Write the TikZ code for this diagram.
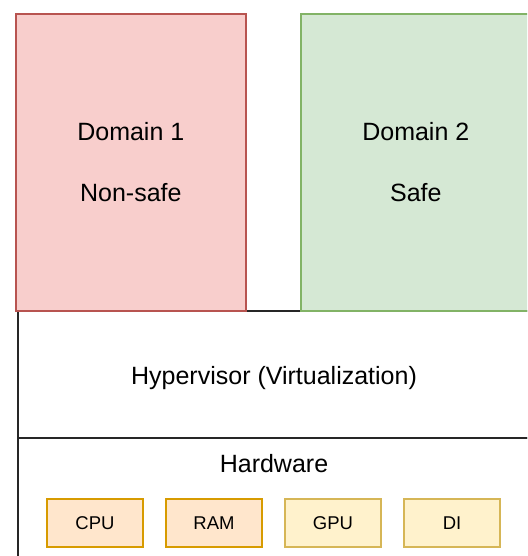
\documentclass[tikz,border=0pt]{standalone}
\usepackage{fontspec}
\setmainfont{Liberation Sans}
\usepackage{tikz}

\definecolor{redfill}{HTML}{F8CECC}
\definecolor{redline}{HTML}{B85450}
\definecolor{greenfill}{HTML}{D5E8D4}
\definecolor{greenline}{HTML}{82B366}
\definecolor{orangefill}{HTML}{FFE6CC}
\definecolor{orangeline}{HTML}{D79B00}
\definecolor{yellowfill}{HTML}{FFF2CC}
\definecolor{yellowline}{HTML}{D6B656}

\begin{document}
\begin{tikzpicture}[x=1pt, y=-1pt, node distance=119pt, line width=1.6pt,
			domain node/.style={rectangle,draw,anchor=north west,minimum width=230pt,minimum height=297pt,align=center,font=\fontsize{25}{61}\selectfont},
			layer node/.style={rectangle,draw=black!85,anchor=north west,minimum width=513pt},
			label node/.style={font=\fontsize{25}{30}\selectfont},
			unit node/.style={rectangle,draw,minimum width=96pt,minimum height=48pt,font=\fontsize{18.5}{22}\selectfont}]
			
			\clip (0,0) rectangle (527,556);
			
			\node[layer node, minimum height=127pt] (hyp) at (17,310) {};
			\node[label node] (hyptext) at (274,378) {Hypervisor (Virtualization)};
			\node[layer node, minimum height=125pt] (hw) at (17,437) {};
			\node[label node] (hwtext) at (274,464) {Hardware};
			
			\node[domain node, draw=redline, fill=redfill] (dom1) at (15,13) {Domain 1\\Non-safe};
			\node[domain node, draw=greenline, fill=greenfill] (dom2) at (300,13) {Domain 2\\Safe};
			
			\node[unit node, draw=orangeline, fill=orangefill] (cpu) at (95,523) {CPU};
			\node[unit node, draw=orangeline, fill=orangefill] (ram) [right of=cpu] {RAM};
			\node[unit node, draw=yellowline, fill=yellowfill] (gpu) [right of=ram] {GPU};
			\node[unit node, draw=yellowline, fill=yellowfill] (di) [right of=gpu] {DI};
			\end{tikzpicture}
\end{document}
